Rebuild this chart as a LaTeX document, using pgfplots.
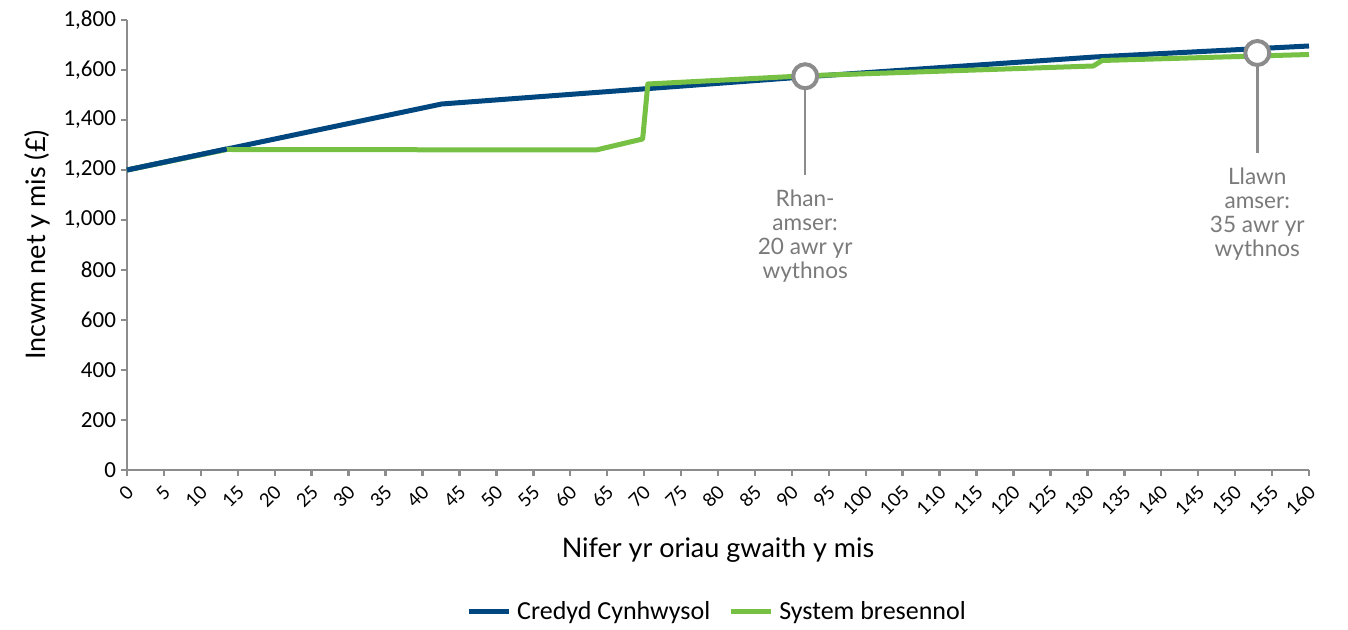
\documentclass[border=0pt]{standalone}
\usepackage{fontspec}
\setmainfont{Carlito}
\newfontfamily\roundfont{Lato}
\usepackage{pgfplots}
\pgfplotsset{compat=1.18}
\definecolor{navy}{HTML}{00467F}
\definecolor{lgreen}{HTML}{76C043}
\definecolor{axgray}{HTML}{8C8C8C}
\definecolor{txtgray}{HTML}{7A7A7A}
\begin{document}
\begin{tikzpicture}
\begin{axis}[
  scale only axis,
  width=591pt, height=225pt,
  xmin=0, xmax=160, ymin=0, ymax=1800,
  axis lines*=left,
  axis line style={axgray, line width=1.2pt},
  tick style={axgray, line width=1.2pt},
  tick align=outside,
  major tick length=3pt,
  xtick={0,5,...,160},
  ytick={0,200,...,1800},
  /pgf/number format/assume math mode=true,
  /pgf/number format/1000 sep={,},
  yticklabel style={font=\fontsize{11.5}{13}\selectfont, xshift=1pt},
  xticklabel style={font=\roundfont\fontsize{9.3}{11}\selectfont, xshift=4pt, yshift=-4pt, rotate=45, anchor=east},
  xlabel={\roundfont Nifer yr oriau gwaith y mis},
  ylabel={\roundfont Incwm net y mis (£)},
  xlabel style={font=\fontsize{13.5}{15}\selectfont, at={(axis description cs:0.5,-0.178)}, anchor=center},
  ylabel style={font=\fontsize{13.5}{15}\selectfont, at={(axis description cs:-0.0755,0.5)}, anchor=center},
  legend style={draw=none, at={(0.5,-0.315)}, anchor=center, legend columns=2, font=\fontsize{13}{15}\selectfont,
    /tikz/every even column/.append style={column sep=7pt},
    /tikz/every odd column/.append style={column sep=1pt}},
  legend image code/.code={\draw[#1, line width=2.5pt] (0pt,0pt) -- (20pt,0pt);},
  clip=false,
]
\addplot[navy, line width=2.5pt, line join=round] coordinates {
 (0,1200) (42.6,1464) (92,1573) (131,1652) (160,1696)};
\addlegendentry{Credyd Cynhwysol}
\addplot[lgreen, line width=2.5pt, line join=round] coordinates {
 (0,1200) (13.5,1282) (63.5,1280) (69.8,1324) (70.5,1544) (92,1577) (130.8,1616) (132,1638) (160,1662)};
\addlegendentry{System bresennol}
\addplot[navy, line width=2.5pt, forget plot] coordinates {(0,1200) (13.5,1284)};
\addplot[axgray, line width=1.3pt, forget plot] coordinates {(91.8,1575) (91.8,1180)};
\addplot[axgray, line width=1.3pt, forget plot] coordinates {(153,1668) (153,1268)};
\addplot[only marks, mark=*, mark size=6pt, mark options={fill=white, draw=axgray, line width=2pt}, forget plot] coordinates {(91.8,1575) (153,1668)};
\node[below, align=center, text=txtgray, font=\roundfont\fontsize{11.3}{12}\selectfont, yshift=-4pt] at (axis cs:91.8,1180) {Rhan-\\amser:\\20 awr yr\\wythnos};
\node[below, align=center, text=txtgray, font=\roundfont\fontsize{11.3}{12}\selectfont, yshift=-4pt] at (axis cs:153,1268) {Llawn\\amser:\\35 awr yr\\wythnos};
\end{axis}
\pgfresetboundingbox
\useasboundingbox ([xshift=-63.5pt,yshift=-80pt]current axis.south west) rectangle ([xshift=19.5pt,yshift=10pt]current axis.north east);
\end{tikzpicture}
\end{document}
